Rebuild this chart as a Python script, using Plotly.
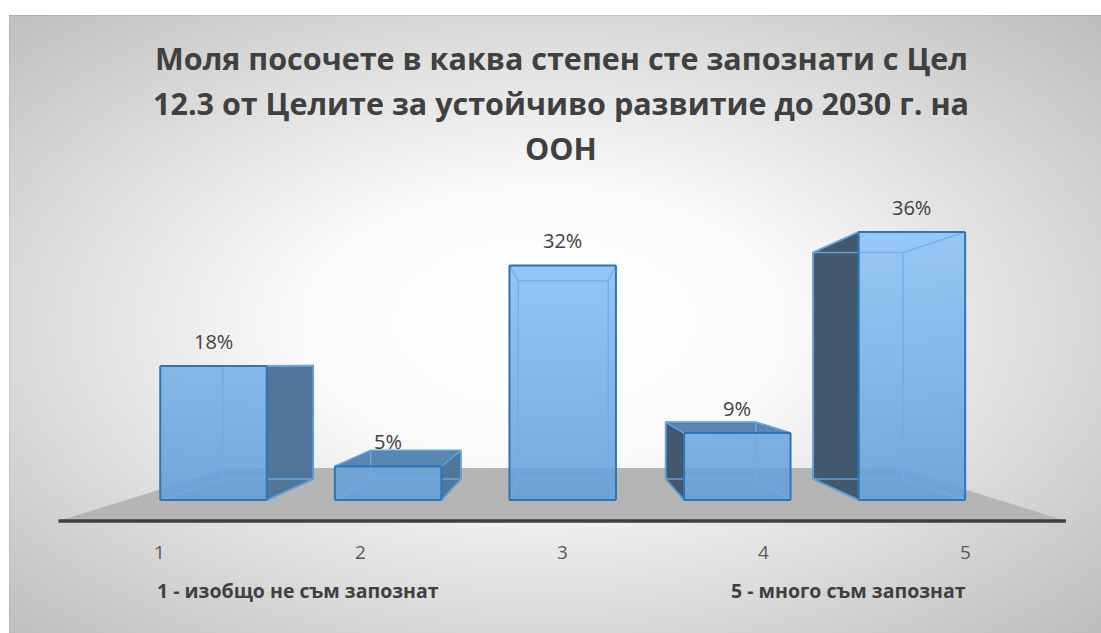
import base64
import plotly.graph_objects as go

# ---------------- data ----------------
categories = [1, 2, 3, 4, 5]
tick_labels = ["1", "2", "3", "4", "5"]
values = [18.18, 4.55, 31.82, 9.09, 36.36]          # percent
value_labels = ["18%", "5%", "32%", "9%", "36%"]
title_lines = [
    "Моля посочете в каква степен сте запознати с Цел",
    "12.3 от Целите за устойчиво развитие до 2030 г. на",
    "ООН",
]
note_left = "1 - изобщо не съм запознат"
note_right = "5 - много съм запознат"

# ---------------- layout / projection settings ----------------
W, H = 1101, 633
X_PX0, X_STEP = 213.5, 174.6      # pixel of category 1, pixels per category
Y_PX0, Y_STEP = 500.0, 7.37       # pixel of value 0, pixels per percent
XV, YV = 3.019, 18.45             # vanishing point (data units)
HALF = 0.305                      # half bar width (category units)
BACK_S = 0.845                    # perspective scale of bar back plane
FLOOR_FRONT_S, FLOOR_BACK_S = 1.154, 0.765

x_range = [1 - X_PX0 / X_STEP, 1 + (W - X_PX0) / X_STEP]
y_range = [-(H - Y_PX0) / Y_STEP, Y_PX0 / Y_STEP]


def sx(px):
    return px / W


def sy(py):
    return 1 - py / H


def proj(x, y, s):
    return XV + s * (x - XV), YV + s * (y - YV)


def poly(points, fill, line_color, line_width, fillgradient=None):
    xs = [p[0] for p in points] + [points[0][0]]
    ys = [p[1] for p in points] + [points[0][1]]
    kw = dict(x=xs, y=ys, mode="lines", fill="toself", fillcolor=fill,
              line=dict(color=line_color, width=line_width),
              hoverinfo="skip", showlegend=False)
    if fillgradient is not None:
        kw["fillgradient"] = fillgradient
    return go.Scatter(**kw)


def segs(segments, color, width):
    xs, ys = [], []
    for a, b in segments:
        xs += [a[0], b[0], None]
        ys += [a[1], b[1], None]
    return go.Scatter(x=xs, y=ys, mode="lines", line=dict(color=color, width=width),
                      hoverinfo="skip", showlegend=False)


fig = go.Figure()

# floor
fl = [proj(categories[0] - 0.5, 0, FLOOR_FRONT_S), proj(categories[-1] + 0.5, 0, FLOOR_FRONT_S),
      proj(categories[-1] + 0.5, 0, FLOOR_BACK_S), proj(categories[0] - 0.5, 0, FLOOR_BACK_S)]
fig.add_trace(poly(fl, "#b5b5b5", "rgba(0,0,0,0)", 0))
fig.add_trace(go.Scatter(x=[fl[0][0], fl[1][0]], y=[fl[0][1], fl[1][1]], mode="lines",
                         line=dict(color="#3f3f3f", width=3.5), hoverinfo="skip", showlegend=False))

BLUE_EDGE = "#2e75b6"
INNER_EDGE = "rgba(110,172,230,0.85)"
RIGHT_SIDE = "#52769a"
LEFT_SIDE = "#42586f"
TOP_FACE = "#5b86b1"

for c, v in zip(categories, values):
    xl, xr = c - HALF, c + HALF
    corners = {"lb": (xl, 0), "rb": (xr, 0), "rt": (xr, v), "lt": (xl, v)}
    f = {k: proj(px, py, 1.0) for k, (px, py) in corners.items()}
    b = {k: proj(px, py, BACK_S) for k, (px, py) in corners.items()}

    # side face
    if xr < XV:
        fig.add_trace(poly([f["rb"], b["rb"], b["rt"], f["rt"]], RIGHT_SIDE, BLUE_EDGE, 1.8))
    elif xl > XV:
        fig.add_trace(poly([f["lb"], b["lb"], b["lt"], f["lt"]], LEFT_SIDE, BLUE_EDGE, 1.8))
    # top face
    if v < YV - 0.5:
        fig.add_trace(poly([f["lt"], f["rt"], b["rt"], b["lt"]], TOP_FACE, BLUE_EDGE, 1.8))

    # front face (translucent, gradient)
    grad = dict(type="vertical", start=0, stop=40,
                colorscale=[[0, "rgba(98,158,214,0.88)"], [1, "rgba(146,200,250,0.9)"]])
    fig.add_trace(poly([f["lb"], f["rb"], f["rt"], f["lt"]], "rgba(104,164,220,0.88)",
                       "rgba(0,0,0,0)", 0, fillgradient=grad))

    # inner (see-through) edges
    inner = [(b["lb"], b["rb"]), (b["rb"], b["rt"]), (b["rt"], b["lt"]), (b["lt"], b["lb"]),
             (f["lb"], b["lb"]), (f["rb"], b["rb"]), (f["rt"], b["rt"]), (f["lt"], b["lt"])]
    fig.add_trace(segs(inner, INNER_EDGE, 1.5))

    # front outline
    fig.add_trace(segs([(f["lb"], f["rb"]), (f["rb"], f["rt"]), (f["rt"], f["lt"]), (f["lt"], f["lb"])],
                       BLUE_EDGE, 2))

annotations = []
# value labels
for c, v, lab in zip(categories, values, value_labels):
    annotations.append(dict(x=c, y=v, xref="x", yref="y", text=lab, showarrow=False,
                            yshift=25, font=dict(family="Open Sans", size=20, color="#404040")))
# category tick labels (front edge of floor)
for c, lab in zip(categories, tick_labels):
    tx, ty = proj(c, 0, FLOOR_FRONT_S)
    annotations.append(dict(x=tx, y=sy(552), xref="x", yref="paper", text=lab, showarrow=False,
                            yanchor="middle",
                            font=dict(family="Open Sans", size=19, color="#595959")))
# title
for i, line in enumerate(title_lines):
    annotations.append(dict(x=sx(561), y=sy(58 + 45 * i), xref="paper", yref="paper", text=line,
                            showarrow=False, yanchor="middle",
                            font=dict(family="Open Sans", size=30.5, color="#404040", weight="bold")))
# notes
annotations.append(dict(x=sx(155), y=sy(590), xref="paper", yref="paper", text=note_left,
                        showarrow=False, xanchor="left", yanchor="middle",
                        font=dict(family="Open Sans", size=19.5, color="#404040", weight="bold")))
annotations.append(dict(x=sx(968), y=sy(590), xref="paper", yref="paper", text=note_right,
                        showarrow=False, xanchor="right", yanchor="middle",
                        font=dict(family="Open Sans", size=19.5, color="#404040", weight="bold")))

# background: white page band at top/left, radial-gradient chart area from (9, 15)
svg = (f'<svg xmlns="http://www.w3.org/2000/svg" width="{W}" height="{H}" '
       f'viewBox="0 0 {W} {H}" preserveAspectRatio="none">'
       '<defs><radialGradient id="g" cx="0.49" cy="0.5" r="0.72">'
       '<stop offset="0" stop-color="#ffffff"/><stop offset="0.3" stop-color="#fbfbfb"/>'
       '<stop offset="1" stop-color="#bcbcbc"/></radialGradient></defs>'
       f'<rect width="{W}" height="{H}" fill="#ffffff"/>'
       f'<rect x="9" y="15" width="{W - 9}" height="{H - 15}" fill="url(#g)"/>'
       f'<line x1="9" y1="15.5" x2="{W}" y2="15.5" stroke="rgba(0,0,0,0.08)"/>'
       f'<line x1="9.5" y1="15" x2="9.5" y2="{H}" stroke="rgba(0,0,0,0.06)"/></svg>')
uri = "data:image/svg+xml;base64," + base64.b64encode(svg.encode()).decode()

fig.update_layout(
    width=W, height=H, margin=dict(l=0, r=0, t=0, b=0),
    paper_bgcolor="#c9c9c9", plot_bgcolor="rgba(0,0,0,0)",
    xaxis=dict(range=x_range, visible=False, fixedrange=True),
    yaxis=dict(range=y_range, visible=False, fixedrange=True),
    showlegend=False, annotations=annotations,
    images=[dict(source=uri, xref="paper", yref="paper", x=0, y=1,
                 sizex=1, sizey=1, xanchor="left", yanchor="top",
                 sizing="stretch", layer="below")],
)

fig.write_html(
    "out.html",
    config={"displayModeBar": False},
    post_script="document.body.style.margin='0';document.documentElement.style.overflow='hidden';",
)
